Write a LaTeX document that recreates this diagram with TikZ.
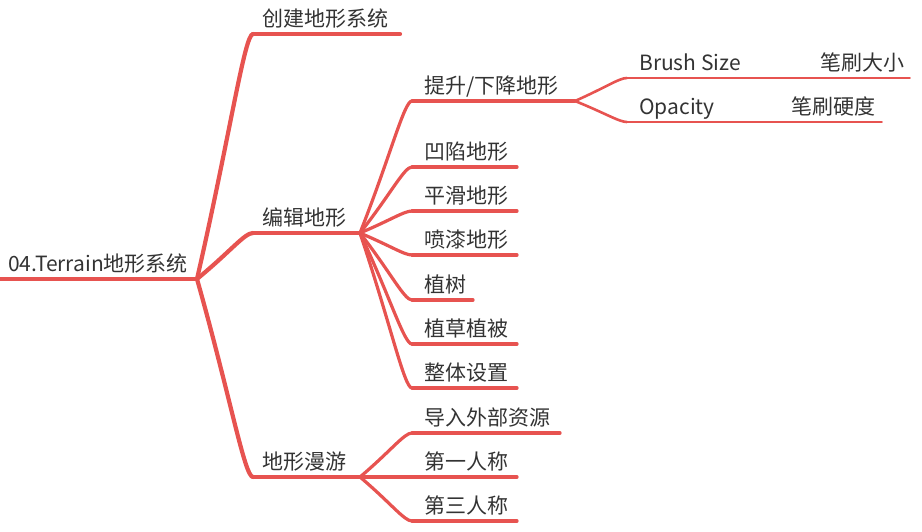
\documentclass[tikz,border=0pt]{standalone}
\usepackage{fontspec}
\setmainfont{Noto Sans CJK SC}
\usetikzlibrary{calc}
\definecolor{mmred}{RGB}{231,83,80}
\definecolor{mmtext}{RGB}{51,51,51}
\tikzset{
  lbl/.style={anchor=base west, inner sep=0pt, text=mmtext, font=\fontsize{21}{25}\selectfont},
  lblr/.style={anchor=base east, inner sep=0pt, text=mmtext, font=\fontsize{21}{25}\selectfont},
  wA/.style={draw=mmred, line width=4.2pt, line cap=round},
  wB/.style={draw=mmred, line width=3.2pt, line cap=round},
  wC/.style={draw=mmred, line width=2.6pt, line cap=round},
  wD/.style={draw=mmred, line width=1.6pt, line cap=round},
}
\newcommand\mmedge[3]{%
  \path[#1] let \p1=(#2), \p2=(#3) in (#2) .. controls ({\x1+0.6*(\x2-\x1)},{\y1+0.6*(\y2-\y1)}) and ({\x1+0.85*(\x2-\x1)},{\y2}) .. (#3);}
\begin{document}
\begin{tikzpicture}[x=1pt,y=-1pt]
\useasboundingbox (0,0) rectangle (922,531);
% ---------- topic underline end points ----------
\coordinate (rootL) at (0,279);   \coordinate (rootR) at (197,279);
\coordinate (c1L) at (253,34);    \coordinate (c1R) at (400,34);
\coordinate (c2L) at (253,233);   \coordinate (c2R) at (360,233);
\coordinate (c3L) at (253,477);   \coordinate (c3R) at (360,477);
\coordinate (e1L) at (412,101);   \coordinate (e1R) at (575,101);
\coordinate (e2L) at (412,167);   \coordinate (e2R) at (517,167);
\coordinate (e3L) at (412,211);   \coordinate (e3R) at (517,211);
\coordinate (e4L) at (412,255);   \coordinate (e4R) at (517,255);
\coordinate (e5L) at (412,300);   \coordinate (e5R) at (473,300);
\coordinate (e6L) at (412,344);   \coordinate (e6R) at (517,344);
\coordinate (e7L) at (412,388);   \coordinate (e7R) at (517,388);
\coordinate (r1L) at (412,433);   \coordinate (r1R) at (560,433);
\coordinate (r2L) at (412,477);   \coordinate (r2R) at (517,477);
\coordinate (r3L) at (412,521);   \coordinate (r3R) at (517,521);
\coordinate (b1L) at (627,78);    \coordinate (b1R) at (750,78);
\coordinate (b2L) at (627,122);   \coordinate (b2R) at (721,122);
\coordinate (b1aR) at (910,78);
\coordinate (b2aR) at (882,122);
% ---------- underlines ----------
\path[wA] (rootL) -- (rootR);
\path[wA] (c1L) -- (c1R);
\path[wA] (c2L) -- (c2R);
\path[wA] (c3L) -- (c3R);
\foreach \k in {e1,e2,e3,e4,e5,e6,e7,r1,r2,r3}{\path[wB] (\k L) -- (\k R);}
\path[wC] (b1L) -- (b1R);
\path[wC] (b2L) -- (b2R);
\path[wD] (b1R) -- (b1aR);
\path[wD] (b2R) -- (b2aR);
% ---------- connectors ----------
\mmedge{wA}{rootR}{c1L}
\mmedge{wA}{rootR}{c2L}
\mmedge{wA}{rootR}{c3L}
\mmedge{wB}{c2R}{e1L}
\mmedge{wB}{c2R}{e2L}
\mmedge{wB}{c2R}{e3L}
\mmedge{wB}{c2R}{e4L}
\mmedge{wB}{c2R}{e5L}
\mmedge{wB}{c2R}{e6L}
\mmedge{wB}{c2R}{e7L}
\mmedge{wB}{c3R}{r1L}
\mmedge{wB}{c3R}{r2L}
\mmedge{wB}{c3R}{r3L}
\mmedge{wC}{e1R}{b1L}
\mmedge{wC}{e1R}{b2L}
% ---------- labels ----------
\node[lbl] (troot) at (8,271) {04.Terrain地形系统};
\node[lbl] (tc1) at (262,26) {创建地形系统};
\node[lbl] (tc2) at (262,225) {编辑地形};
\node[lbl] (tc3) at (262,469) {地形漫游};
\node[lbl] (te1) at (424,93) {提升/下降地形};
\node[lbl] (te2) at (424,159) {凹陷地形};
\node[lbl] (te3) at (424,203) {平滑地形};
\node[lbl] (te4) at (424,247) {喷漆地形};
\node[lbl] (te5) at (424,292) {植树};
\node[lbl] (te6) at (424,336) {植草植被};
\node[lbl] (te7) at (424,380) {整体设置};
\node[lbl] (tr1) at (424,425) {导入外部资源};
\node[lbl] (tr2) at (424,469) {第一人称};
\node[lbl] (tr3) at (424,513) {第三人称};
\node[lbl] (tb1) at (639,70) {Brush Size};
\node[lbl] (tb2) at (639,114) {Opacity};
\node[lblr] (tb1a) at (905,70) {笔刷大小};
\node[lblr] (tb2a) at (876,114) {笔刷硬度};
\end{tikzpicture}
\end{document}
